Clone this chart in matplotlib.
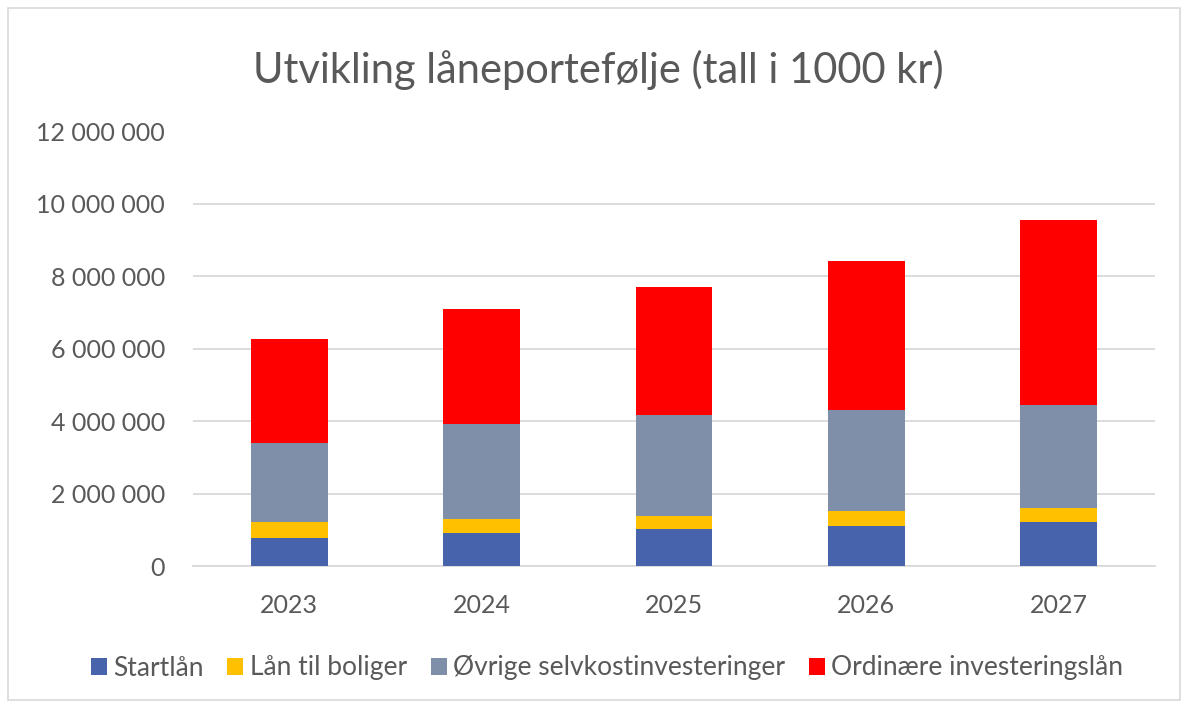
import numpy as np
import matplotlib
matplotlib.use("Agg")
import matplotlib.pyplot as plt
from matplotlib.patches import Rectangle
from matplotlib.ticker import FuncFormatter

# Lånegjeld per år, tall i 1000 kr
years = ["2023", "2024", "2025", "2026", "2027"]
startlan = [770000, 900000, 1030000, 1110000, 1210000]
lan_boliger = [440000, 400000, 360000, 400000, 390000]
ovrige_selvkost = [2180000, 2610000, 2780000, 2800000, 2840000]
ordinaere = [2880000, 3190000, 3540000, 4120000, 5110000]

series = [
    ("Startlån", startlan, "#4763AC"),
    ("Lån til boliger", lan_boliger, "#FFC000"),
    ("Øvrige selvkostinvesteringer", ovrige_selvkost, "#7F8FA9"),
    ("Ordinære investeringslån", ordinaere, "#FF0000"),
]

FONT = ["Lato", "DejaVu Sans"]
TXT = "#595959"
plt.rcParams["font.family"] = FONT

fig = plt.figure(figsize=(11.86, 7.11), dpi=100)
ax = fig.add_axes([193 / 1186, 1 - 566 / 711, (1155 - 193) / 1186, (566 - 131.5) / 711])

# light chart border
fig.patches.append(Rectangle((8 / 1186, 1 - 700 / 711), 1172 / 1186, 692 / 711,
                             transform=fig.transFigure, fill=False,
                             edgecolor="#D9D9D9", linewidth=1.2))

x = np.arange(len(years))
bottom = np.zeros(len(years))
for name, vals, color in series:
    ax.bar(x, vals, width=0.4, bottom=bottom, color=color, label=name, zorder=3)
    bottom += np.array(vals)

ax.set_xlim(-0.5, len(years) - 0.5)
ax.set_ylim(0, 12000000)
ax.set_yticks(np.arange(0, 12000001, 2000000))
ax.yaxis.set_major_formatter(FuncFormatter(lambda v, _: f"{int(v):,}".replace(",", " ")))
ax.set_xticks(x)
ax.set_xticklabels(years)
ax.grid(axis="y", color="#D9D9D9", linewidth=1.3, zorder=0)
ax.tick_params(axis="both", length=0, labelsize=18, colors=TXT)
ax.tick_params(axis="y", pad=20)
ax.tick_params(axis="x", pad=20)
for side in ["top", "right", "left"]:
    ax.spines[side].set_visible(False)
ax.spines["bottom"].set_color("#D9D9D9")
ax.spines["bottom"].set_linewidth(1.3)

fig.text(598 / 1186, 1 - 70 / 711, "Utvikling låneportefølje (tall i 1000 kr)",
         ha="center", va="center", fontsize=30, color=TXT)

fig.legend(loc="center", bbox_to_anchor=(607 / 1186, 1 - 668 / 711), ncol=4,
           frameon=False, fontsize=19, handlelength=0.6, handleheight=0.6,
           handletextpad=0.25, columnspacing=0.9, labelcolor=TXT)

fig.savefig("out.png", dpi=100)
